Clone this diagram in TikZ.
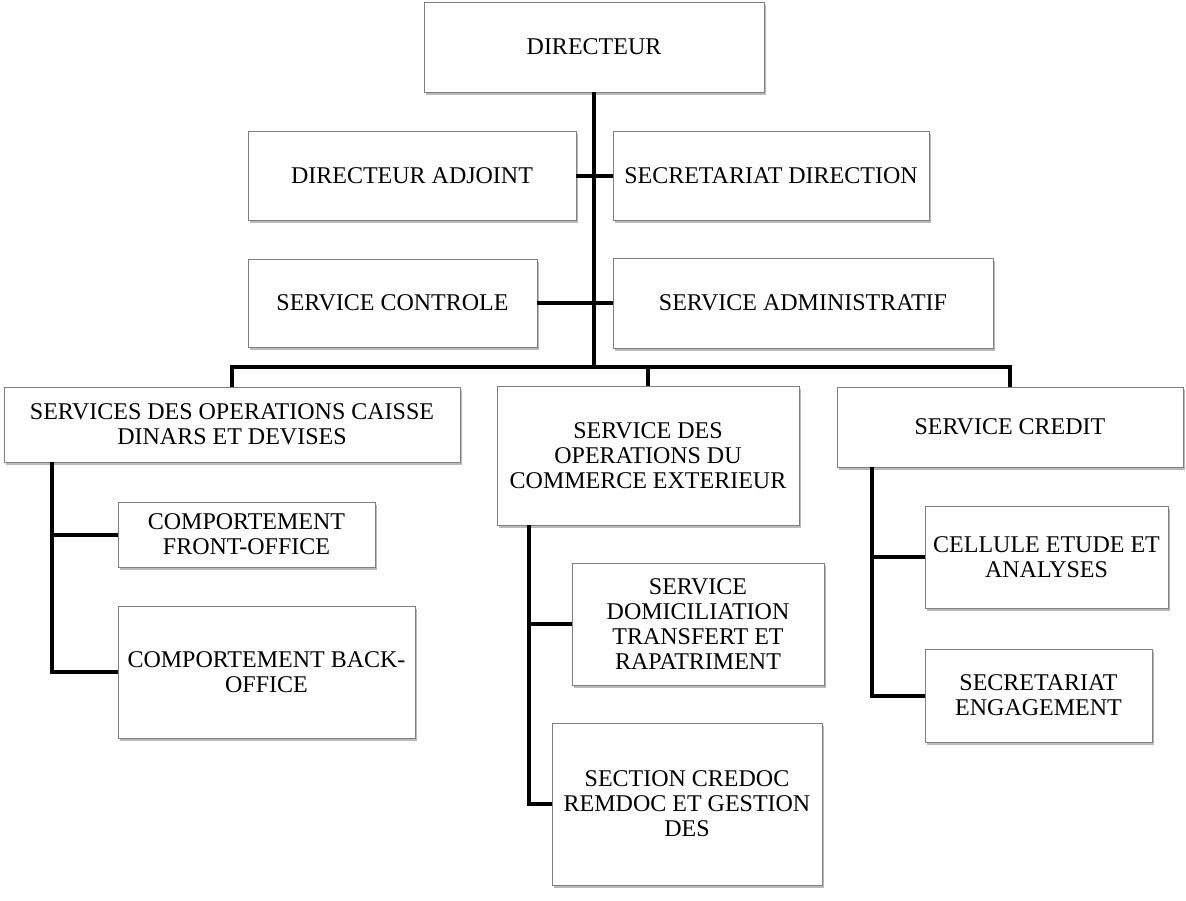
\documentclass[tikz,border=0pt]{standalone}
\usepackage{fontspec}
\setmainfont{Liberation Serif}
\usetikzlibrary{
  calc,
  positioning,
  shadows
}
\tikzset{
  % For the boxes of the chart.
  unit/.style={
    draw=black!50,
    line width=0.9pt,
    fill=white,
    drop shadow={shadow xshift=2pt, shadow yshift=-3pt, fill=black!55},
    anchor=north west,
    align=center,
    inner sep=2pt,
    outer sep=0pt,
    font=\fontsize{24}{25}\selectfont},
%
  % For the links between boxes.
  link/.style={
    line width=4pt},
}

\begin{document}
\begin{tikzpicture}[x=1pt,y=-1pt]
  \useasboundingbox (0,0) rectangle (1186,900);

  % Direction.
  \node[unit, minimum width=340pt, minimum height=90pt] (dir) at (424,2) {DIRECTEUR};
  \node[unit, minimum width=328pt, minimum height=89pt] (adj) at (248,131) {DIRECTEUR ADJOINT};
  \node[unit, minimum width=316pt, minimum height=89pt] (sec) at (613,131) {SECRETARIAT DIRECTION};
  \node[unit, minimum width=289pt, minimum height=88pt] (ctrl) at (248,259) {SERVICE CONTROLE};
  \node[unit, minimum width=380pt, minimum height=90pt] (adm) at (613,258) {SERVICE ADMINISTRATIF};

  % Services.
  \node[unit, minimum width=456pt, minimum height=75pt] (caisse) at (4,387)
    {SERVICES DES OPERATIONS CAISSE\\ DINARS ET DEVISES};
  \node[unit, minimum width=302pt, minimum height=139pt] (cext) at (497,386)
    {SERVICE DES\\ OPERATIONS DU\\ COMMERCE EXTERIEUR};
  \node[unit, minimum width=346pt, minimum height=80pt] (credit) at (837,387) {SERVICE CREDIT};

  % Sections.
  \node[unit, minimum width=257pt, minimum height=65pt] (front) at (118,502)
    {COMPORTEMENT\\ FRONT-OFFICE};
  \node[unit, minimum width=297pt, minimum height=132pt] (back) at (118,606)
    {COMPORTEMENT BACK-\\ OFFICE};
  \node[unit, minimum width=252pt, minimum height=122pt] (domi) at (572,563)
    {SERVICE\\ DOMICILIATION\\ TRANSFERT ET\\ RAPATRIMENT};
  \node[unit, minimum width=270pt, minimum height=162pt] (credoc) at (552,723)
    {SECTION CREDOC\\ REMDOC ET GESTION\\ DES};
  \node[unit, minimum width=243pt, minimum height=102pt] (cellule) at (925,506)
    {CELLULE ETUDE ET\\ ANALYSES};
  \node[unit, minimum width=227pt, minimum height=93pt] (engag) at (925,649)
    {SECRETARIAT\\ ENGAGEMENT};

  \coordinate (bus) at (594,367);
  \coordinate (cs) at (52,462);
  \coordinate (es) at (529,525);
  \coordinate (ks) at (872,467);

  \draw[link] (dir.south) -- (bus);
  \draw[link] (adj.east) -- (sec.west);
  \draw[link] (ctrl.east) -- (adm.west);
  \draw[link] (caisse.north) |- (bus) -| (credit.north);
  \draw[link] (cext.north) -- (cext.north |- bus);

  \draw[link] (cs) |- (back.west);
  \draw[link] (front.west) -- (front.west -| cs);
  \draw[link] (es) |- (credoc.west);
  \draw[link] (domi.west) -- (domi.west -| es);
  \draw[link] (ks) |- (engag.west);
  \draw[link] (cellule.west) -- (cellule.west -| ks);
\end{tikzpicture}
\end{document}
